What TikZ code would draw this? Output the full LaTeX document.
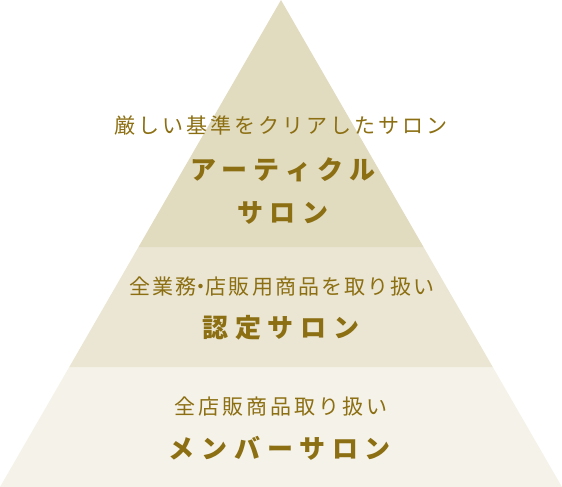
\documentclass[tikz,border=0pt]{standalone}
\usepackage{fontspec}
\usetikzlibrary{calc}
\newfontfamily\jpsub[LetterSpace=14]{Noto Sans CJK JP}
\newfontfamily\jpsubtight[LetterSpace=10]{Noto Sans CJK JP}
\newfontfamily\jptitle[LetterSpace=26]{Noto Sans CJK JP}
\definecolor{tierA}{HTML}{E1DBC0}
\definecolor{tierB}{HTML}{EBE6D4}
\definecolor{tierC}{HTML}{F5F2E9}
\definecolor{gold}{HTML}{8C6F12}
\newcommand{\middot}{\makebox[9.5pt][c]{・}}
\begin{document}
\begin{tikzpicture}[
   x=1pt,y=-1pt,
   tier/.style={draw=none},
   sub/.style={text=gold,inner sep=0pt,font=\jpsub\fontsize{21}{25}\selectfont},
   subtight/.style={sub,font=\jpsubtight\fontsize{21}{25}\selectfont},
   title/.style={text=gold,inner sep=0pt,align=center,font=\jptitle\bfseries\fontsize{26}{43}\selectfont}]
\useasboundingbox (0,0) rectangle (562,487);
\coordinate (apex) at (281,0);
\coordinate (bl) at (0,487);
\coordinate (br) at (562,487);
\coordinate (ml) at ($(apex)!0.75359!(bl)$);
\coordinate (mr) at ($(apex)!0.75359!(br)$);
\coordinate (tl) at ($(apex)!0.50719!(bl)$);
\coordinate (tr) at ($(apex)!0.50719!(br)$);
% tiers
\fill[tier,tierC] (ml) -- (mr) -- (br) -- (bl) -- cycle;
\fill[tier,tierB] (tl) -- (tr) -- (mr) -- (ml) -- cycle;
\fill[tier,tierA] (apex) -- (tr) -- (tl) -- cycle;
% labels
\node[sub] (articleSub) at (281,125) {厳しい基準をクリアしたサロン};
\node[title] (article) at (283,191.5) {アーティクル\\サロン};
\node[subtight] (certSub) at (282,287) {全業務\middot 店販用商品を取り扱い};
\node[title] (cert) at (281,328) {認定サロン};
\node[sub] (memberSub) at (281,407) {全店販商品取り扱い};
\node[title] (member) at (280,448) {メンバーサロン};
\end{tikzpicture}
\end{document}
